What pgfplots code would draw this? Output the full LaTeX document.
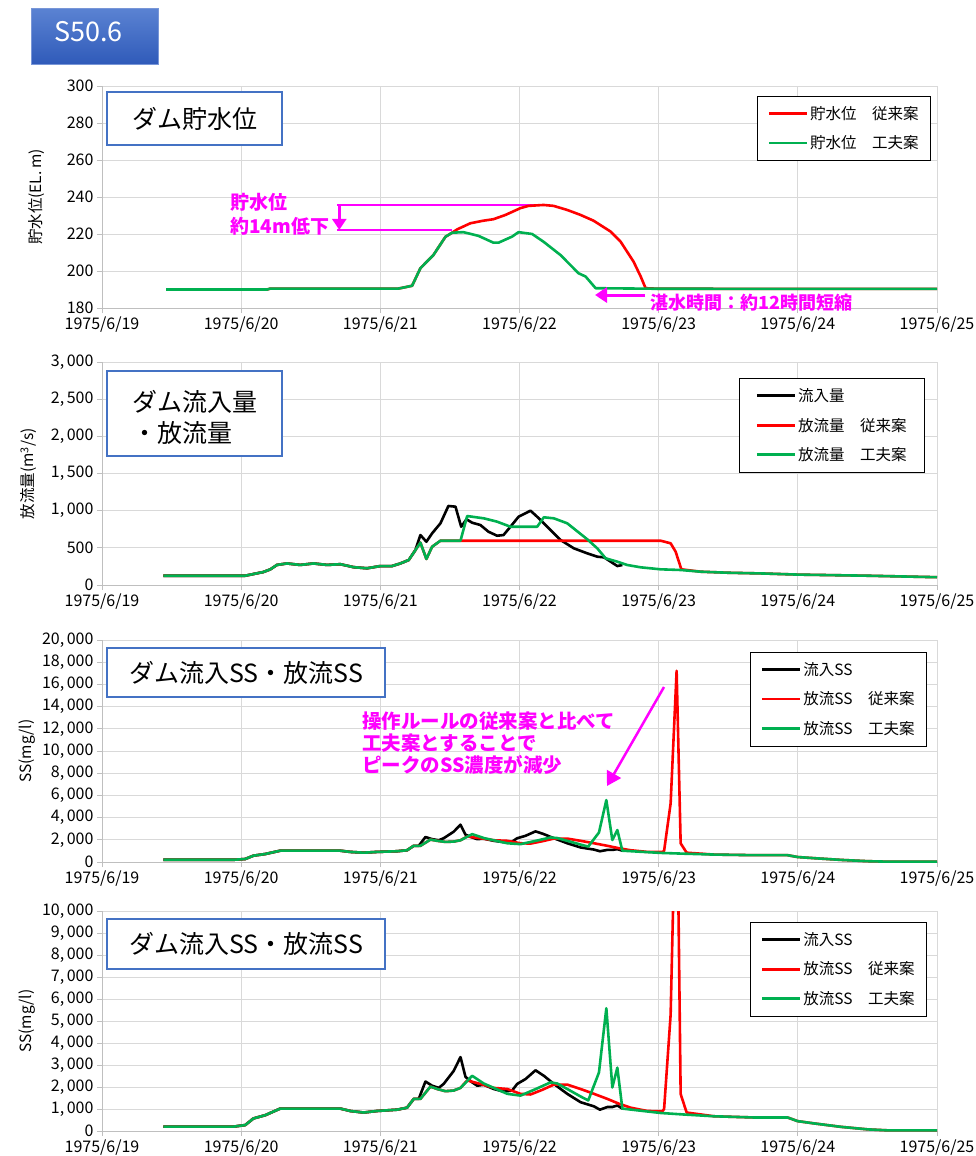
\documentclass[border=0pt]{standalone}
\usepackage{fontspec}
\setmainfont{Noto Sans CJK JP}
\usepackage{pgfplots}
\usepackage{pgfplotstable}
\pgfplotsset{compat=1.18}
\usetikzlibrary{arrows.meta}
\definecolor{xred}{RGB}{255,0,0}
\definecolor{xgreen}{RGB}{0,176,80}
\definecolor{mag}{RGB}{255,0,255}
\definecolor{boxblue}{RGB}{68,114,196}
\definecolor{gridc}{RGB}{217,217,217}
\definecolor{axc}{RGB}{191,191,191}

\pgfplotstableread{
x y
0.441 200
0.945 200
1.029 270
1.088 570
1.173 720
1.281 1020
1.712 1020
1.784 910
1.880 840
1.976 910
2.120 970
2.192 1060
2.240 1460
2.276 1460
2.324 2250
2.372 2060
2.419 1960
2.455 2140
2.527 2730
2.576 3360
2.612 2460
2.660 2210
2.696 2060
2.743 2100
2.815 1910
2.887 1790
2.947 1840
2.983 2140
3.043 2360
3.115 2760
3.175 2510
3.247 2140
3.343 1690
3.439 1310
3.535 1120
3.578 970
3.631 1090
3.667 1090
3.703 1160
3.739 1020
}\ssblack

\pgfplotstableread{
x y
0.441 200
0.945 200
1.029 270
1.088 570
1.173 720
1.281 1020
1.712 1020
1.784 910
1.880 840
1.976 910
2.120 970
2.192 1060
2.240 1460
2.288 1460
2.360 2020
2.408 1910
2.468 1810
2.527 1840
2.576 1960
2.624 2300
2.719 2140
2.815 1960
2.912 1910
3.007 1690
3.079 1660
3.163 1870
3.247 2110
3.343 2110
3.439 1910
3.535 1690
3.631 1460
3.715 1240
3.799 1060
3.919 910
4.027 900
4.039 1000
4.086 5290
4.129 17230
4.158 1680
4.201 840
4.398 670
4.686 615
4.926 615
4.998 450
5.117 345
5.309 190
5.501 75
5.645 30
6.000 30
}\ssred

\pgfplotstableread{
x y
0.441 200
0.945 200
1.029 270
1.088 570
1.173 720
1.281 1020
1.712 1020
1.784 910
1.880 840
1.976 910
2.120 970
2.192 1060
2.240 1460
2.288 1460
2.360 2020
2.408 1910
2.468 1810
2.527 1840
2.576 1960
2.660 2510
2.743 2160
2.815 1960
2.912 1690
3.007 1610
3.103 1870
3.223 2210
3.271 2160
3.343 1910
3.439 1570
3.494 1390
3.571 2660
3.624 5580
3.667 1980
3.703 2880
3.739 1020
3.847 940
4.014 820
4.182 750
4.398 670
4.686 615
4.926 615
4.998 450
5.117 345
5.309 190
5.501 75
5.645 30
6.000 30
}\ssgreen

\pgfplotsset{
 base/.style={
  scale only axis, width=835pt, anchor=south west,
  xmin=0, xmax=6, xtick={0,...,6},
  xticklabels={1975/6/19,1975/6/20,1975/6/21,1975/6/22,1975/6/23,1975/6/24,1975/6/25},
  grid=major, major grid style={draw=gridc, line width=1pt},
  axis lines=left, axis line style={-, draw=axc, line width=1pt},
  tick align=outside, major tick length=5pt, tick style={draw=axc, line width=1pt},
  ticklabel style={font=\fontsize{16}{16}\selectfont, text=black},
  scaled y ticks=false,
  /pgf/number format/assume math mode=true,
  /pgf/number format/1000 sep={,\kern2.5pt},
  ylabel style={font=\fontsize{15.5}{15.5}\selectfont, anchor=center},
  legend cell align=left,
  legend image code/.code={\draw[##1, line width=2.6pt] (0pt,0pt) -- (38pt,0pt);},
  legend style={anchor=north east, draw=black, line width=0.8pt, font=\fontsize{15.5}{17}\selectfont, row sep=11pt, inner xsep=10pt, inner ysep=8pt},
 },
 dl/.style={line width=2.6pt, line join=round},
}

\begin{document}
\begin{tikzpicture}[x=1pt,y=-1pt]
\path[use as bounding box] (0,0) rectangle (976,1156);

% ---------- panel 1
\begin{axis}[base, at={(102pt,-308pt)}, height=222pt,
  ymin=180, ymax=300, ytick={180,200,...,300},
  ylabel={貯水位(EL.\,m)}, ylabel style={at={(axis description cs:-0.078,0.5)}},
  legend style={at={(0.9928,0.956)}}]
\draw[mag, line width=2.5pt] (axis cs:1.691,235.7) -- (axis cs:3.173,235.7);
\draw[mag, line width=2.5pt] (axis cs:1.691,222.2) -- (axis cs:2.518,222.2);
\draw[mag, line width=2.5pt, -{Triangle[width=14pt,length=11pt]}] (axis cs:1.705,235.7) -- (axis cs:1.705,222.2);
\addplot[dl, xred] coordinates {(0.460,190)(1.187,190)(1.209,190.5)(2.129,190.5)(2.228,192)(2.288,201.5)(2.381,208.6)(2.468,218.5)(2.516,220.7)(2.552,222.5)(2.647,225.8)(2.741,227.2)(2.813,228)(2.899,230.3)(3.007,234)(3.065,235.2)(3.173,235.7)(3.245,235.2)(3.343,233)(3.439,230.3)(3.532,227.2)(3.655,221.3)(3.727,215.8)(3.820,205)(3.871,197)(3.906,190.7)(4.0,190.4)(6.0,190.3)};
\addlegendentry{貯水位　従来案}
\addplot[dl, xgreen] coordinates {(0.460,190)(1.187,190)(1.209,190.5)(2.129,190.5)(2.228,192)(2.288,201.5)(2.381,208.6)(2.468,218.5)(2.516,220.7)(2.597,221)(2.705,219)(2.813,215.3)(2.849,215.3)(2.947,218.6)(2.993,221)(3.091,220)(3.173,215.8)(3.295,208.6)(3.424,198.8)(3.475,197)(3.547,190.7)(4.0,190.4)(6.0,190.3)};
\addlegendentry{貯水位　工夫案}
\end{axis}

% ---------- panel 2
\begin{axis}[base, at={(102pt,-585pt)}, height=223pt,
  ymin=0, ymax=3000, ytick={0,500,...,3000},
  ylabel={放流量(m\textsuperscript{3}/s)}, ylabel style={at={(axis description cs:-0.088,0.5)}},
  legend style={at={(0.9856,0.928)}, inner xsep=16pt}]
\addplot[dl, black] coordinates {(0.441,125)(1.029,125)(1.160,175)(1.209,210)(1.257,270)(1.329,290)(1.424,270)(1.520,290)(1.617,270)(1.712,280)(1.808,240)(1.904,225)(2.000,255)(2.084,255)(2.144,290)(2.204,336)(2.252,470)(2.288,672)(2.331,582)(2.372,695)(2.432,830)(2.489,1063)(2.540,1054)(2.581,784)(2.619,884)(2.660,838)(2.719,807)(2.777,717)(2.839,663)(2.885,672)(2.935,784)(2.993,918)(3.079,1000)(3.127,918)(3.199,784)(3.295,605)(3.391,493)(3.487,426)(3.559,381)(3.607,372)(3.655,314)(3.703,255)(3.739,269)};
\addlegendentry{流入量}
\addplot[dl, xred] coordinates {(0.441,125)(1.029,125)(1.160,175)(1.209,210)(1.257,270)(1.329,290)(1.424,270)(1.520,290)(1.617,270)(1.712,280)(1.808,240)(1.904,225)(2.000,255)(2.084,255)(2.144,290)(2.204,336)(2.288,570)(2.331,350)(2.372,515)(2.432,596)(4.014,596)(4.086,561)(4.122,448)(4.163,211)(4.302,179)(4.5,165)(4.75,155)(5.0,140)(5.5,125)(6.0,105)};
\addlegendentry{放流量　従来案}
\addplot[dl, xgreen] coordinates {(0.441,125)(1.029,125)(1.160,175)(1.209,210)(1.257,270)(1.329,290)(1.424,270)(1.520,290)(1.617,270)(1.712,280)(1.808,240)(1.904,225)(2.000,255)(2.084,255)(2.144,290)(2.204,336)(2.288,570)(2.331,350)(2.372,515)(2.432,596)(2.576,596)(2.624,928)(2.743,897)(2.839,852)(2.935,784)(3.127,784)(3.175,911)(3.247,897)(3.343,830)(3.487,615)(3.559,493)(3.619,359)(3.703,314)(3.775,269)(3.871,238)(4.014,211)(4.158,202)(4.302,179)(4.5,165)(4.75,155)(5.0,140)(5.5,125)(6.0,105)};
\addlegendentry{放流量　工夫案}
\end{axis}

% ---------- panel 3
\begin{axis}[base, at={(102pt,-862pt)}, height=222pt,
  ymin=0, ymax=20000, ytick={0,2000,...,20000},
  ylabel={SS(mg/l)}, ylabel style={at={(axis description cs:-0.09,0.5)}},
  legend style={at={(0.988,0.946)}}]
\addplot[dl, black] table {\ssblack};
\addlegendentry{流入SS}
\addplot[dl, xred] table {\ssred};
\addlegendentry{放流SS　従来案}
\addplot[dl, xgreen] table {\ssgreen};
\addlegendentry{放流SS　工夫案}
\end{axis}

% ---------- panel 4
\begin{axis}[base, at={(102pt,-1131pt)}, height=220pt,
  ymin=0, ymax=10000, ytick={0,1000,...,10000},
  ylabel={SS(mg/l)}, ylabel style={at={(axis description cs:-0.09,0.5)}},
  legend style={at={(0.988,0.95)}}]
\addplot[dl, black] table {\ssblack};
\addlegendentry{流入SS}
\addplot[dl, xred] table {\ssred};
\addlegendentry{放流SS　従来案}
\addplot[dl, xgreen] table {\ssgreen};
\addlegendentry{放流SS　工夫案}
\end{axis}

% ---------- badge
\shade[top color={rgb,255:red,90;green,130;blue,210}, bottom color={rgb,255:red,47;green,90;blue,185}] (31,9) rectangle (158,65);
\draw[color={rgb,255:red,120;green,150;blue,215}, line width=1pt] (31,9) rectangle (158,65);
\node[anchor=base, text=white, font=\fontsize{27}{30}\selectfont, inner sep=0pt] at (88.5,42) {S50.6};

% ---------- title boxes
\draw[boxblue, fill=white, line width=2.5pt] (107,92) rectangle (282,145);
\node[font=\fontsize{25}{30}\selectfont, inner sep=0pt] at (194.5,118.5) {ダム貯水位};
\draw[boxblue, fill=white, line width=2.5pt] (107,371) rectangle (282,456);
\node[font=\fontsize{25}{31}\selectfont, inner sep=0pt, align=left] at (194.5,417) {ダム流入量\\・放流量};
\draw[boxblue, fill=white, line width=2.5pt] (107,648) rectangle (385,697);
\node[font=\fontsize{25}{30}\selectfont, inner sep=0pt] at (246,672.5) {ダム流入SS・放流SS};
\draw[boxblue, fill=white, line width=2.5pt] (107,919) rectangle (385,969);
\node[font=\fontsize{25}{30}\selectfont, inner sep=0pt] at (246,944) {ダム流入SS・放流SS};

% ---------- annotations
\node[anchor=west, text=mag, font=\bfseries\fontsize{19}{22}\selectfont, inner sep=0pt] at (230,202) {貯水位};
\node[anchor=west, text=mag, font=\bfseries\fontsize{19}{22}\selectfont, inner sep=0pt] at (230,226) {約14m低下};
\draw[mag, line width=3pt, -{Triangle[width=15pt,length=12pt]}] (645,295) -- (595,295);
\node[anchor=west, text=mag, font=\bfseries\fontsize{18}{22}\selectfont, inner sep=0pt] at (650,303) {湛水時間：約12時間短縮};
\node[anchor=north west, text=mag, font=\bfseries\fontsize{19.5}{22}\selectfont, inner sep=0pt, align=left] at (362,712) {操作ルールの従来案と比べて\\工夫案とすることで\\ピークのSS濃度が減少};
\draw[mag, line width=2.5pt, -{Triangle[width=16pt,length=14pt]}] (664,687) -- (607,786);
\end{tikzpicture}
\end{document}
